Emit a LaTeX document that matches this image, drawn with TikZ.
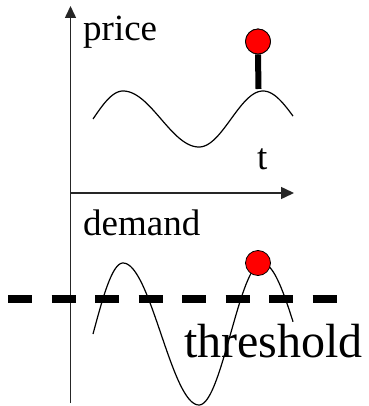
\documentclass[tikz,border=0pt]{standalone}
\usepackage{fontspec}
\setmainfont{Liberation Serif}
\usetikzlibrary{arrows.meta}
\begin{document}
\begin{tikzpicture}[x=1pt,y=-1pt,
  axis/.style={line width=1.5pt, draw=black!85},
  wave/.style={line width=1.2pt, line join=round},
  ball/.style={circle, fill=red, draw=black, line width=0.8pt, minimum size=25pt, inner sep=0pt},
  lbl/.style={anchor=base west, inner sep=0pt, font=\fontsize{37}{40}\selectfont},
  bigl/.style={anchor=base west, inner sep=0pt, font=\fontsize{48}{52}\selectfont}]
\useasboundingbox (0,0) rectangle (368,406);
% axes
\coordinate (ytop) at (70.5,6);
\coordinate (ybot) at (70.5,403);
\coordinate (xleft) at (70.5,193);
\coordinate (xright) at (294,193);
\draw[axis, -{Triangle[length=12pt,width=11pt]}] (ybot) -- (ytop);
\draw[axis, -{Triangle[length=13pt,width=12pt]}] (xleft) -- (xright);
% price wave
\draw[wave] plot[domain=93:123, samples=25, variable=\x] (\x, {119-28*sin(90*(\x-93)/30)})
  -- plot[domain=123:199, samples=40, variable=\x] (\x, {119-28*cos(180*(\x-123)/76)})
  -- plot[domain=199:263, samples=40, variable=\x] (\x, {119+28*cos(180*(\x-199)/64)})
  -- plot[domain=263:293, samples=25, variable=\x] (\x, {119-28*cos(84*(\x-263)/30)});
% price spike
\coordinate (peak1) at (258.5,89);
\node[ball] (ball1) at (258,41.5) {};
\draw[line width=6pt] (peak1) -- (ball1.south);
\node[ball] at (ball1) {};
% labels
\node[lbl] (price) at (83,41) {price};
\node[lbl] (t) at (257,169) {t};
\node[lbl] (demand) at (83,235) {demand};
% threshold
\coordinate (thl) at (8,299);
\coordinate (thr) at (337,299);
\draw[line width=8pt, dash pattern=on 24pt off 19.5pt] (thl) -- (thr);
% demand wave
\draw[wave] plot[domain=93:123, samples=25, variable=\x] (\x, {334-71*sin(90*(\x-93)/30)})
  -- plot[domain=123:199, samples=40, variable=\x] (\x, {334-71*cos(180*(\x-123)/76)})
  -- plot[domain=199:262, samples=40, variable=\x] (\x, {334+71*cos(180*(\x-199)/63)})
  -- plot[domain=262:293, samples=25, variable=\x] (\x, {334-71*cos(80*(\x-262)/31)});
\node[ball] (ball2) at (258,263) {};
\node[bigl] (threshold) at (184,357) {threshold};
\end{tikzpicture}
\end{document}
